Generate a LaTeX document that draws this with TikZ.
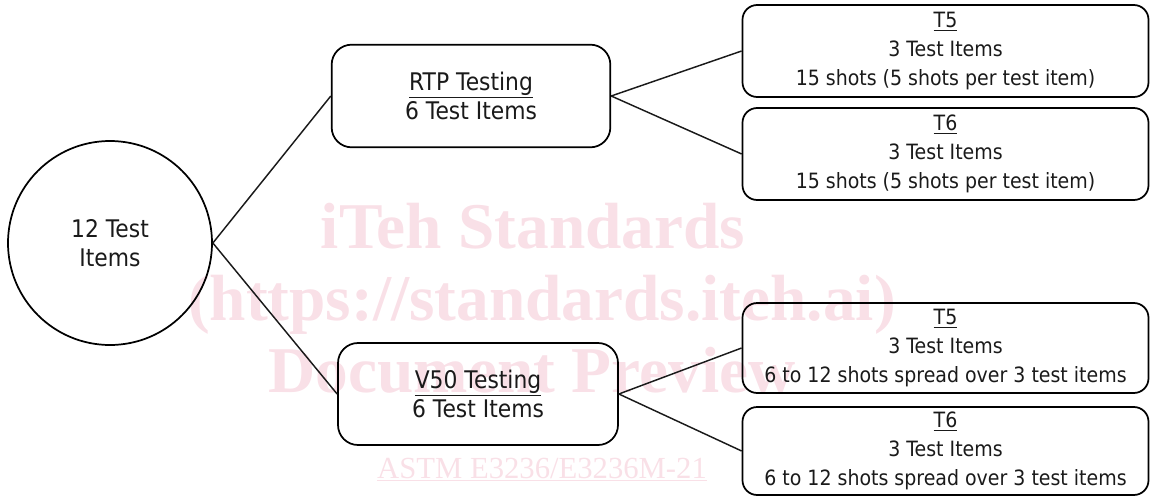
\documentclass[tikz,border=0pt]{standalone}
\usepackage{fontspec}
\setmainfont{DejaVu Sans}[FakeStretch=0.9]
\newfontfamily\wmfont{Liberation Serif}
\definecolor{ink}{RGB}{26,26,26}
\definecolor{wmpink}{RGB}{249,224,231}
\begin{document}
\begin{tikzpicture}[x=0.75pt,y=-0.75pt,
  every node/.style={text=ink},
  leaffont/.style={font=\fontsize{15.8}{21.5}\selectfont},
  bigfont/.style={font=\fontsize{18.2}{21.5}\selectfont},
  rootnode/.style={draw, circle, line width=1.3pt, minimum size=153pt, inner sep=0pt, align=center, bigfont},
  midbox/.style={draw, rectangle, rounded corners=15pt, line width=1.3pt, inner sep=0pt, align=center, bigfont, minimum width=209pt, minimum height=77pt},
  leafbox/.style={draw, rectangle, rounded corners=11pt, line width=1.3pt, inner sep=0pt, align=center, leaffont, minimum width=304.5pt},
  conn/.style={line width=1.1pt, draw=ink},
  wmark/.style={text=wmpink, anchor=base, inner sep=0pt, font=\wmfont\bfseries\fontsize{49}{49}\selectfont}
]
\useasboundingbox (0,0) rectangle (1150,496);

% faint background lettering
\node[wmark] (wm1) at (533,248) {iTeh Standards};
\node[wmark] (wm2) at (542,320) {(https://standards.iteh.ai)};
\node[wmark] (wm3) at (532,392) {Document Preview};
\node[wmark, font=\wmfont\fontsize{23}{23}\selectfont] (wm4) at (542,478) {\underline{ASTM E3236/E3236M-21}};

% tree
\node[rootnode] (root) at (110,243) {12 Test\\Items};

\node[midbox] (rtp) at (471,96) {\underline{RTP Testing}\\6 Test Items};
\node[midbox, minimum width=210pt, minimum height=76.5pt] (v50) at (478,394) {\underline{V50 Testing}\\6 Test Items};

\node[leafbox, minimum height=69pt] (a5) at (945.5,51) {\underline{T5}\\3 Test Items\\15 shots (5 shots per test item)};
\node[leafbox, minimum height=69pt] (a6) at (945.5,154) {\underline{T6}\\3 Test Items\\15 shots (5 shots per test item)};
\node[leafbox, minimum height=67.5pt] (b5) at (945.5,348) {\underline{T5}\\3 Test Items\\6 to 12 shots spread over 3 test items};
\node[leafbox, minimum height=66pt] (b6) at (945.5,451) {\underline{T6}\\3 Test Items\\6 to 12 shots spread over 3 test items};

\draw[conn] (root.east) -- (rtp.west);
\draw[conn] (root.east) -- (v50.west);
\draw[conn] (rtp.east) -- (a5.west);
\draw[conn] (rtp.east) -- (a6.west);
\draw[conn] (v50.east) -- (b5.west);
\draw[conn] (v50.east) -- (b6.west);
\end{tikzpicture}
\end{document}
